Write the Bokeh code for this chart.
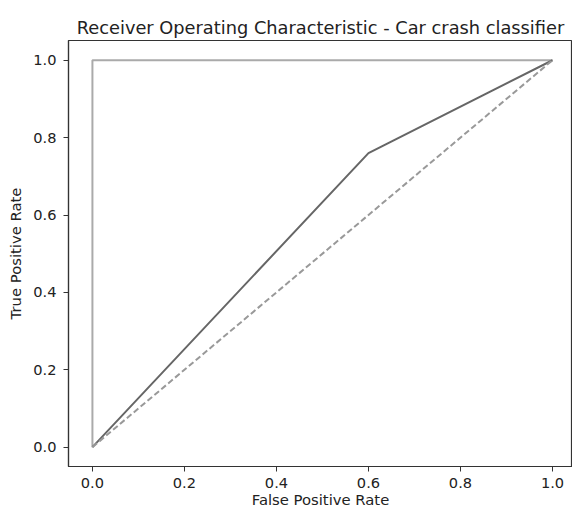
from bokeh.plotting import figure
from bokeh.embed import file_html
from bokeh.resources import INLINE
from bokeh.models import Range1d, FixedTicker

# Data
fpr = [0.0, 0.6, 1.0]
tpr = [0.0, 0.76, 1.0]
perfect_x = [0.0, 0.0, 1.0]
perfect_y = [0.0, 1.0, 1.0]
chance_x = [0.0, 1.0]
chance_y = [0.0, 1.0]
ticks = [0.0, 0.2, 0.4, 0.6, 0.8, 1.0]
tick_labels = ["0.0", "0.2", "0.4", "0.6", "0.8", "1.0"]

FONT = "DejaVu Sans"

p = figure(width=572, height=511, output_backend="svg", toolbar_location=None,
           x_range=Range1d(-0.052, 1.0435), y_range=Range1d(-0.05, 1.051),
           title="Receiver Operating Characteristic - Car crash classifier",
           min_border_left=68, min_border_right=0, min_border_top=40, min_border_bottom=45)

p.line(perfect_x, perfect_y, line_color="#aaaaaa", line_width=2)
p.line(fpr, tpr, line_color="#666666", line_width=2)
p.line(chance_x, chance_y, line_color="#999999", line_width=2, line_dash="6 3")

p.title.align = "center"
p.title.text_font = FONT
p.title.text_font_size = "17.8px"
p.title.text_font_style = "normal"
p.title.text_color = "#222222"
p.title.standoff = 5

p.outline_line_color = "#333333"
p.outline_line_width = 1.2
p.outline_line_alpha = 1
p.grid.visible = False
p.background_fill_color = "white"
p.border_fill_color = "white"

for ax in (p.xaxis[0], p.yaxis[0]):
    ax.ticker = FixedTicker(ticks=ticks)
    ax.major_label_overrides = dict(zip(ticks, tick_labels))
    ax.axis_line_color = "#333333"
    ax.axis_line_width = 1.2
    ax.major_tick_line_color = "#333333"
    ax.major_tick_out = 5
    ax.major_tick_in = 0
    ax.minor_tick_line_color = None
    ax.major_label_text_font = FONT
    ax.major_label_text_font_size = "14.6px"
    ax.major_label_text_color = "#222222"
    ax.axis_label_text_font = FONT
    ax.axis_label_text_font_size = "14.8px"
    ax.axis_label_text_font_style = "normal"
    ax.axis_label_text_color = "#222222"
    ax.major_label_standoff = 5

p.xaxis.axis_label = "False Positive Rate"
p.xaxis.major_label_standoff = 6
p.xaxis.axis_label_standoff = 0
p.yaxis.axis_label = "True Positive Rate"
p.yaxis.major_label_standoff = 7
p.yaxis.axis_label_standoff = 6

open("out.html", "w").write(file_html(p, INLINE))
